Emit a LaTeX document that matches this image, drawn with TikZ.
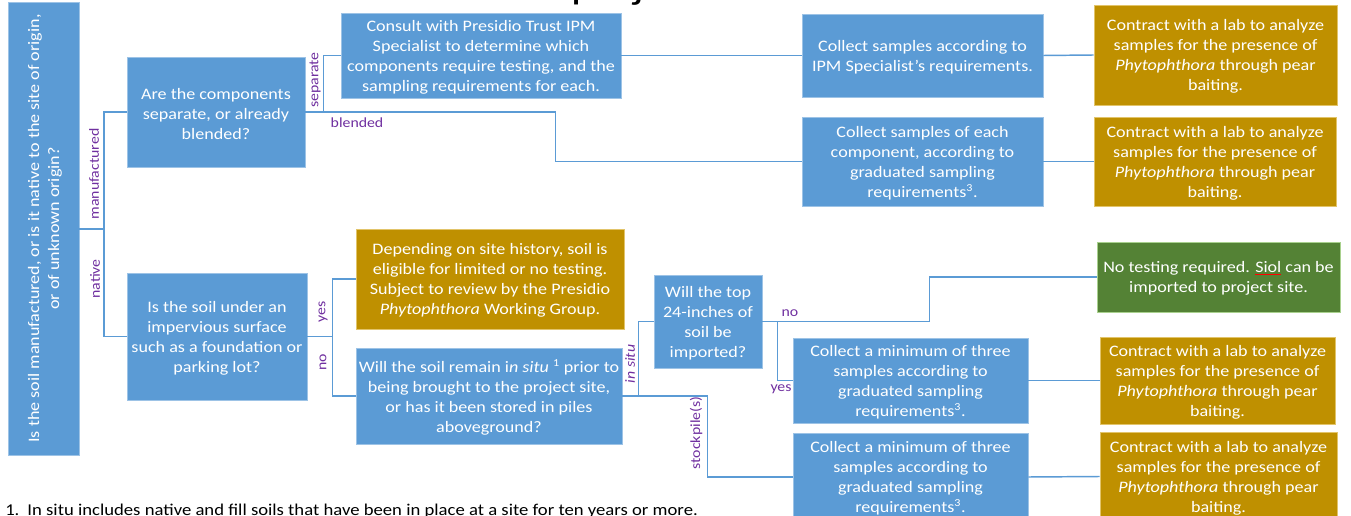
\documentclass[tikz,border=0pt]{standalone}
\usepackage{fontspec}
\setmainfont{Carlito}[FakeStretch=1.13]
\usetikzlibrary{fit}
\definecolor{boxblue}{HTML}{5B9BD5}
\definecolor{boxblueline}{HTML}{9DC3E6}
\definecolor{boxgold}{HTML}{BF9000}
\definecolor{boxgoldline}{HTML}{E2C46A}
\definecolor{boxgreen}{HTML}{548235}
\definecolor{boxgreenline}{HTML}{A9D18E}
\definecolor{connblue}{HTML}{5B9BD5}
\definecolor{lblpurple}{HTML}{7030A0}
\tikzset{
  box/.style={inner sep=0pt, line width=0.6pt},
  bluebox/.style={box, fill=boxblue, draw=boxblueline},
  goldbox/.style={box, fill=boxgold, draw=boxgoldline},
  greenbox/.style={box, fill=boxgreen, draw=boxgreenline},
  txt/.style={inner sep=0pt, text=white, align=center, font=\fontsize{12}{15}\selectfont},
  conn/.style={draw=connblue, line width=1.1pt},
  lbl/.style={text=lblpurple, inner sep=0pt, font=\fontsize{10.5}{13}\selectfont},
}
\newcommand\contracttext{Contract with a lab to analyze\\samples for the presence of\\\textit{Phytophthora} through pear\\baiting.}
\newcommand\minthree{Collect a minimum of three\\samples according to\\graduated sampling\\requirements\textsuperscript{3}.}
\newcommand\boxtext[2]{\node[txt] (#1-t) at ([yshift=-1.15pt]#1.center) {#2};}
\begin{document}
\begin{tikzpicture}[x=0.75pt, y=-0.75pt]
\useasboundingbox (0,0) rectangle (1351,516);
\clip (0,0) rectangle (1351,516);
\fill[white] (0,0) rectangle (1351,516);
% cut-off title
\node[anchor=base west, inner sep=0pt, font=\fontsize{30}{36}\selectfont] (title) at (571,-1) {project};
% boxes
\node[bluebox, fit={(8,2) (79,455)}] (root) {};
\node[txt, rotate=90] (root-t) at ([xshift=1.15pt]root.center) {Is the soil manufactured, or is it native to the site of origin,\\or of unknown origin?};
\node[bluebox, fit={(127,57) (305,167)}] (comp) {};
\boxtext{comp}{Are the components\\separate, or already\\blended?}
\node[bluebox, fit={(341,13) (621,98)}] (consult) {};
\boxtext{consult}{Consult with Presidio Trust IPM\\Specialist to determine which\\components require testing, and the\\sampling requirements for each.}
\node[bluebox, fit={(802,14) (1043,97)}] (ipm) {};
\boxtext{ipm}{Collect samples according to\\IPM Specialist's requirements.}
\node[bluebox, fit={(802,117) (1043,206)}] (each) {};
\boxtext{each}{Collect samples of each\\component, according to\\graduated sampling\\requirements\textsuperscript{3}.}
\node[goldbox, fit={(1094,5) (1337,105)}] (c1) {};
\boxtext{c1}{\contracttext}
\node[goldbox, fit={(1094,117) (1336,206)}] (c2) {};
\boxtext{c2}{\contracttext}
\node[greenbox, fit={(1097,242) (1340,312)}] (green) {};
\boxtext{green}{No testing required. \textcolor{red}{\underline{\textcolor{white}{Siol}}} can be\\imported to project site.}
\node[goldbox, fit={(1100,337) (1335,424)}] (c3) {};
\boxtext{c3}{\contracttext}
\node[goldbox, fit={(1100,432) (1337,521)}] (c4) {};
\boxtext{c4}{\contracttext}
\node[bluebox, fit={(127,273) (307,400)}] (imp) {};
\boxtext{imp}{Is the soil under an\\impervious surface\\such as a foundation or\\parking lot?}
\node[goldbox, fit={(356,229) (624,329)}] (dep) {};
\boxtext{dep}{Depending on site history, soil is\\eligible for limited or no testing.\\Subject to review by the Presidio\\\textit{Phytophthora} Working Group.}
\node[bluebox, fit={(356,348) (622,444)}] (will) {};
\boxtext{will}{Will the soil remain i\textit{n situ} \textsuperscript{1} prior to\\being brought to the project site,\\or has it been stored in piles\\aboveground?}
\node[bluebox, fit={(654,275) (762,368)}] (top) {};
\boxtext{top}{Will the top\\24-inches of\\soil be\\imported?}
\node[bluebox, fit={(793,338) (1028,423)}] (cm1) {};
\boxtext{cm1}{\minthree}
\node[bluebox, fit={(793,433) (1028,521)}] (cm2) {};
\boxtext{cm2}{\minthree}
% connectors
\coordinate (j1) at (104,229);
\draw[conn] (root.east |- j1) -- (j1);
\draw[conn] (comp.west) -| (j1) |- (imp.west);
\draw[conn] (comp.east) -- ++(18,0) |- (consult.west);
\draw[conn] (comp.east) -- ++(250,0) |- (each.west);
\draw[conn] (consult.east) -- (ipm.west);
\draw[conn] (ipm.east) -- (c1.west);
\draw[conn] (each.east) -- (c2.west);
\draw[conn] (imp.east) -- ++(25,0) |- (dep.west);
\draw[conn] (imp.east) -- ++(25,0) |- (will.west);
\draw[conn] (will.east) -- ++(16,0) |- (top.west);
\draw[conn] (will.east) -- ++(85,0) |- (cm2.west);
\draw[conn] (top.east) -- ++(15,0) |- (cm1.west);
\draw[conn] (top.east) -- ++(167,0) |- (green.west);
\draw[conn] (cm1.east) -- (c3.west);
\draw[conn] (cm2.east) -- (c4.west);
% labels
\node[lbl, rotate=90] (lmanu) at (94,174) {manufactured};
\node[lbl, rotate=90] (lnative) at (95,279) {native};
\node[lbl, rotate=90] (lsep) at (315,80) {separate};
\node[lbl] (lblend) at (357,123) {blended};
\node[lbl, rotate=90] (lyes1) at (323,312) {yes};
\node[lbl, rotate=90] (lno1) at (323,362) {no};
\node[lbl, rotate=90] (linsitu) at (630,364) {\textit{in situ}};
\node[lbl, rotate=90] (lstock) at (696,433) {stockpile(s)};
\node[lbl] (lno2) at (790,313) {no};
\node[lbl] (lyes2) at (781,389) {yes};
% footnote
\node[anchor=base west, inner sep=0pt, font=\fontsize{12.4}{15}\selectfont] (foot) at (5,515) {1.\hspace{6pt}In situ includes native and fill soils that have been in place at a site for ten years or more.};
\end{tikzpicture}
\end{document}
